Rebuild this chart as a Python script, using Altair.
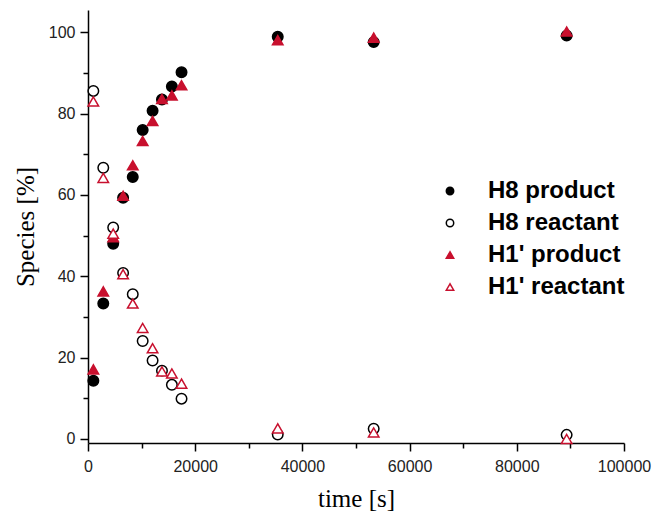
import altair as alt
import pandas as pd

# time points [s]
times = [1000, 2850, 4700, 6550, 8350, 10200, 12050, 13800, 15650, 17450, 35400, 53300, 89300]

# species [%]
h8_product = [14.3, 33.3, 48.0, 59.3, 64.4, 76.0, 80.7, 83.5, 86.7, 90.2, 98.9, 97.6, 99.2]
h8_reactant = [85.6, 66.7, 52.0, 40.8, 35.6, 24.1, 19.3, 16.8, 13.3, 9.9, 1.1, 2.5, 1.0]
h1_product = [17.1, 36.3, 49.6, 59.8, 67.3, 73.3, 78.2, 83.6, 84.5, 87.0, 98.1, 98.7, 100.2]
h1_reactant = [83.0, 64.2, 50.5, 40.5, 33.3, 27.3, 22.3, 16.6, 16.1, 13.6, 2.6, 1.6, 0.0]

series_names = ["H8 product", "H8 reactant", "H1' product", "H1' reactant"]
series_values = [h8_product, h8_reactant, h1_product, h1_reactant]

RED = "#c8102e"
stroke_range = ["black", "black", RED, RED]
fill_range = ["black", "white", RED, "white"]
shape_range = ["circle", "circle", "triangle-up", "triangle-up"]

rows = []
for name, vals in zip(series_names, series_values):
    for t, v in zip(times, vals):
        rows.append({"t": t, "v": v, "series": name})
df = pd.DataFrame(rows)

x_ticks = list(range(0, 100001, 10000))
y_ticks = list(range(0, 101, 10))

legend = alt.Legend(
    title=None,
    orient="none",
    legendX=350,
    legendY=169,
    padding=0,
    labelFont="Liberation Sans",
    labelFontSize=24,
    labelFontWeight="bold",
    labelColor="black",
    symbolSize=55,
    symbolStrokeWidth=1.5,
    rowPadding=8,
    labelOffset=26,
)

chart = (
    alt.Chart(df)
    .mark_point(size=110, strokeWidth=1.5, opacity=1, filled=False)
    .encode(
        x=alt.X(
            "t:Q",
            scale=alt.Scale(domain=[0, 100000], nice=False, zero=False),
            axis=alt.Axis(
                values=x_ticks,
                format="d",
                labelExpr="datum.value % 20000 === 0 ? datum.label : ''",
                tickSize={"condition": {"test": "datum.value % 20000 === 0", "value": 8}, "value": 5},
                title="time [s]",
                titleFont="Liberation Serif",
                titleFontSize=25,
                titleFontWeight="normal",
                titleColor="black",
                titlePadding=12,
                labelFont="Liberation Sans",
                labelFontSize=16,
                labelColor="#222222",
                labelPadding=7,
                labelFlush=False,
                grid=False,
                domainColor="black",
                domainWidth=1.5,
                tickColor="black",
                tickWidth=1.5,
            ),
        ),
        y=alt.Y(
            "v:Q",
            scale=alt.Scale(domain=[-1, 105.5], nice=False, zero=False),
            axis=alt.Axis(
                values=y_ticks,
                format="d",
                labelExpr="datum.value % 20 === 0 ? datum.label : ''",
                tickSize={"condition": {"test": "datum.value % 20 === 0", "value": 8}, "value": 5},
                title="Species [%]",
                titleFont="Liberation Serif",
                titleFontSize=25,
                titleFontWeight="normal",
                titleColor="black",
                titlePadding=10,
                labelFont="Liberation Sans",
                labelFontSize=16,
                labelColor="#222222",
                labelPadding=5,
                labelFlush=False,
                grid=False,
                domainColor="black",
                domainWidth=1.5,
                tickColor="black",
                tickWidth=1.5,
            ),
        ),
        shape=alt.Shape("series:N", scale=alt.Scale(domain=series_names, range=shape_range), legend=legend, sort=series_names),
        stroke=alt.Stroke("series:N", scale=alt.Scale(domain=series_names, range=stroke_range), legend=legend, sort=series_names),
        fill=alt.Fill("series:N", scale=alt.Scale(domain=series_names, range=fill_range), legend=legend, sort=series_names),
    )
    .properties(
        width=536,
        height=433,
        autosize=alt.AutoSizeParams(type="none"),
        padding={"left": 88, "top": 10, "right": 28, "bottom": 69},
        background="white",
    )
    .configure_view(stroke=None)
)

chart.save("out.html", embed_options={"renderer": "svg", "actions": False})
